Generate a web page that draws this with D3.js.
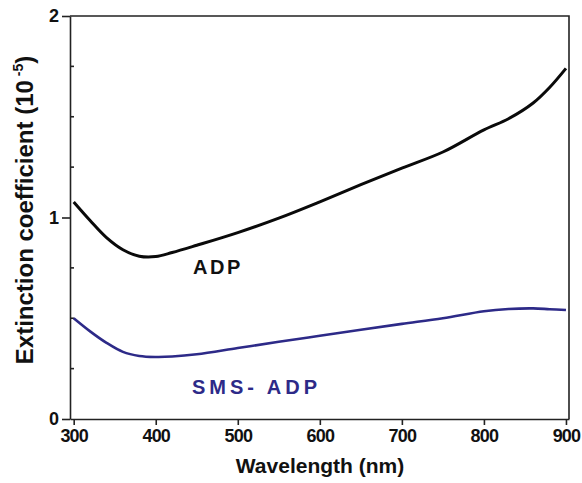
<!DOCTYPE html>
<html>
<head>
<meta charset="utf-8">
<script src="https://cdn.jsdelivr.net/npm/d3@7"></script>
<style>
  html, body { margin: 0; padding: 0; background: #fff; }
  svg { display: block; }
  text { font-family: "Liberation Sans", Arial, sans-serif; font-weight: bold; }
</style>
</head>
<body>
<svg id="chart" width="582" height="483"></svg>
<script>
// ---- data ----
const wavelength = [300, 320, 340, 360, 380, 400, 420, 450, 500, 550, 600, 650, 700, 750, 800, 830, 860, 880, 900];
const adp        = [1.077, 0.985, 0.900, 0.840, 0.808, 0.806, 0.826, 0.862, 0.925, 0.997, 1.078, 1.163, 1.245, 1.325, 1.435, 1.490, 1.568, 1.645, 1.740];
const smsAdp     = [0.500, 0.435, 0.378, 0.333, 0.313, 0.308, 0.310, 0.321, 0.352, 0.383, 0.413, 0.443, 0.472, 0.500, 0.535, 0.546, 0.549, 0.545, 0.541];
const xTicks = [300, 400, 500, 600, 700, 800, 900];
const yTicks = [0, 1, 2];
const yMinorTicks = [0.25, 0.5, 0.75, 1.25, 1.5, 1.75];
const seriesLabels = ["ADP", "SMS- ADP"];

// ---- layout ----
const svg = d3.select("#chart");
const x = d3.scaleLinear().domain([295.5, 903.7]).range([70, 569]);
const y = d3.scaleLinear().domain([0, 2]).range([419, 16]);
const axisColor = "#222";

// frame (top and right borders)
svg.append("path")
  .attr("d", `M${x.range()[0]},${y(2)}H${x.range()[1]}V${y(0)}`)
  .attr("fill", "none").attr("stroke", axisColor).attr("stroke-width", 1.6);

// bottom axis
const gx = svg.append("g").attr("transform", `translate(0,${y(0)})`)
  .call(d3.axisBottom(x).tickValues(xTicks).tickFormat(d3.format("d")).tickSize(6).tickSizeOuter(0).tickPadding(4));
gx.select(".domain").attr("stroke", axisColor).attr("stroke-width", 1.6);
gx.selectAll(".tick line").attr("stroke", axisColor).attr("stroke-width", 1.6);
gx.selectAll(".tick text").attr("fill", "#111").style("font-size", "18px")
  .style("letter-spacing", "-0.8px").attr("dy", "0.72em");

// left axis
const gy = svg.append("g").attr("transform", `translate(${x.range()[0]},0)`)
  .call(d3.axisLeft(y).tickValues(yTicks).tickFormat(d3.format("d")).tickSize(8).tickSizeOuter(0).tickPadding(3));
gy.select(".domain").attr("stroke", axisColor).attr("stroke-width", 1.6);
gy.selectAll(".tick line").attr("stroke", axisColor).attr("stroke-width", 1.6);
gy.selectAll(".tick text").attr("fill", "#111").style("font-size", "18px");

// minor inward ticks on y axis
svg.append("g").selectAll("line").data(yMinorTicks).join("line")
  .attr("x1", x.range()[0]).attr("x2", x.range()[0] + 4)
  .attr("y1", d => y(d)).attr("y2", d => y(d))
  .attr("stroke", axisColor).attr("stroke-width", 1.6);

// curves
const line = d3.line().x(d => x(d[0])).y(d => y(d[1])).curve(d3.curveCatmullRom.alpha(0.5));
svg.append("path").datum(wavelength.map((w, i) => [w, adp[i]]))
  .attr("d", line).attr("fill", "none").attr("stroke", "#0a0a0a").attr("stroke-width", 3);
svg.append("path").datum(wavelength.map((w, i) => [w, smsAdp[i]]))
  .attr("d", line).attr("fill", "none").attr("stroke", "#2d2a88").attr("stroke-width", 2.6);

// series labels
svg.append("text").attr("x", 193).attr("y", 274).text(seriesLabels[0])
  .style("font-size", "20px").style("letter-spacing", "2.5px").attr("fill", "#111");
svg.append("text").attr("x", 192).attr("y", 394).text(seriesLabels[1])
  .style("font-size", "20px").style("letter-spacing", "4px").attr("fill", "#2d2a88");

// axis titles
svg.append("text").attr("x", 320).attr("y", 473).attr("text-anchor", "middle")
  .style("font-size", "21px").attr("fill", "#111").text("Wavelength (nm)");

const yt = svg.append("text")
  .attr("transform", "translate(33,210) rotate(-90)")
  .attr("text-anchor", "middle").style("font-size", "24px").attr("fill", "#111");
yt.append("tspan").text("Extinction coefficient (10");
yt.append("tspan").text(" -5").style("font-size", "14px").attr("dy", -10);
yt.append("tspan").text(")").attr("dy", 10);
</script>
</body>
</html>
